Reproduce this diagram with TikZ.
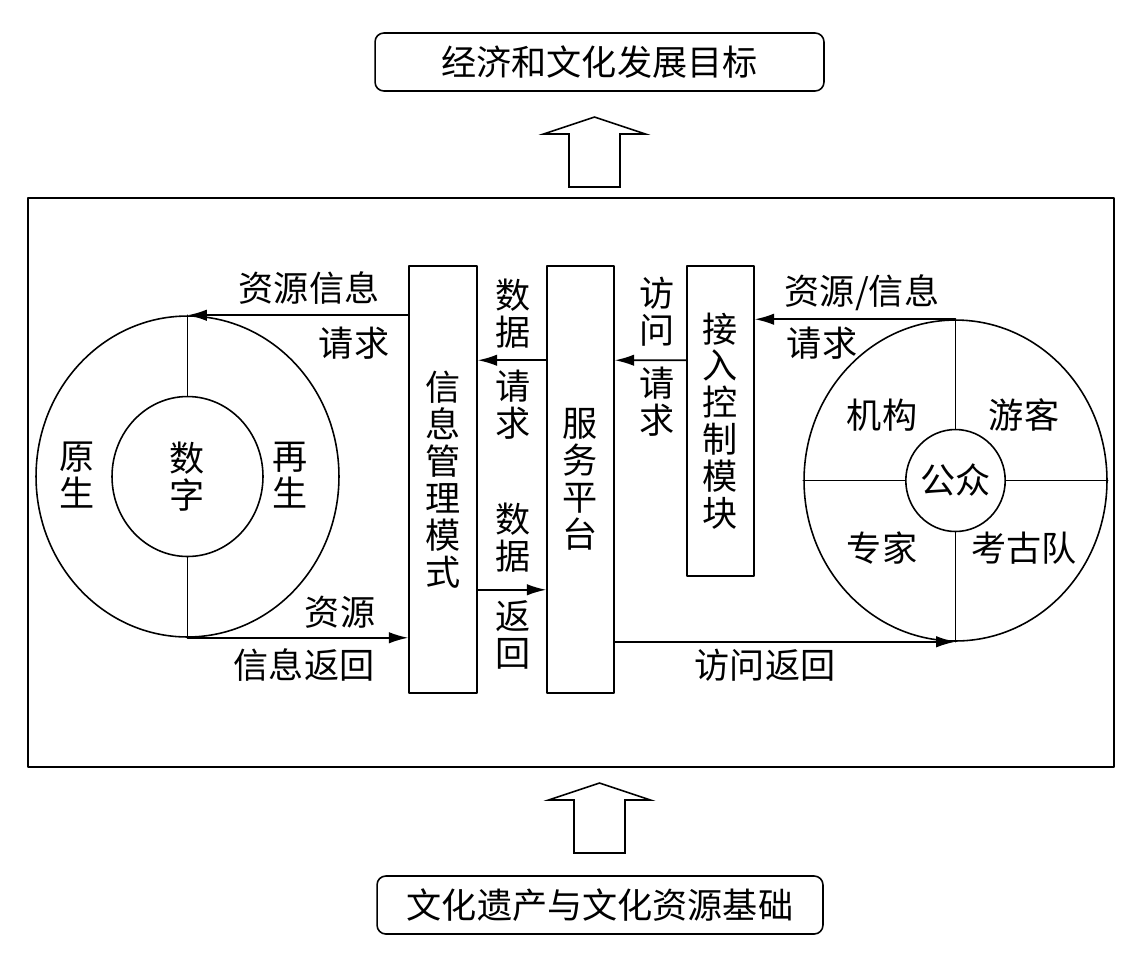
\documentclass[tikz,border=0pt]{standalone}
\usepackage{fontspec}
\newfontfamily\cjk{Noto Sans CJK SC}
\usetikzlibrary{arrows.meta,shapes.geometric}

\begin{document}
\begin{tikzpicture}[x=0.02cm,y=-0.02cm,line cap=round,line join=round,
    every node/.style={font=\cjk\fontsize{20}{21}\selectfont},
    line/.style={line width=0.9pt},
    box/.style={draw,line width=0.9pt,inner sep=0pt,align=center},
    rbox/.style={box,rounded corners=5pt},
    ring/.style={draw,ellipse,line width=0.9pt,inner sep=0pt,align=center},
    arr/.style={line width=0.9pt,-{Latex[length=11pt,width=6.5pt]}},
    blk/.style={draw,line width=0.9pt,line cap=butt,line join=miter}]
    \useasboundingbox (0,0) rectangle (1138,961);

    % 目标与基础
    \node[rbox,minimum width=8.98cm,minimum height=1.16cm] (mubiao) at (599.5,62) {经济和文化发展目标};
    \node[rbox,minimum width=8.92cm,minimum height=1.16cm] (jichu) at (600,905) {文化遗产与文化资源基础};
    \node[box,minimum width=21.72cm,minimum height=11.38cm] (kuang) at (571,482.5) {};

    % 空心箭头
    \foreach \bx/\by in {594.5/187, 599.5/853}
        \draw[blk] (\bx-25.5,\by) -- ++(0,-53) -- ++(-25.5,0) -- ++(51,-17)
            -- ++(51,17) -- ++(-25.5,0) -- ++(0,53) -- cycle;

    % 模块
    \node[box,minimum width=1.36cm,minimum height=8.54cm] (xinxi) at (443,479.5) {信\\息\\管\\理\\模\\式};
    \node[box,minimum width=1.34cm,minimum height=8.54cm] (fuwu) at (580.5,479.5) {服\\务\\平\\台};
    \node[box,minimum width=1.34cm,minimum height=6.2cm] (jieru) at (720.5,421) {接\\入\\控\\制\\模\\块};

    % 资源（左）
    \node[ring,minimum width=6.06cm,minimum height=6.42cm] (yuan) at (187.5,476.5) {};
    \node[ring,minimum width=3.02cm,minimum height=3.2cm] (shuzi) at (187.5,476.5) {数\\字};
    \draw[line] (yuan.north) -- (shuzi.north);
    \draw[line] (shuzi.south) -- (yuan.south);
    \node[align=center] (yuansheng) at (77,475) {原\\生};
    \node[align=center] (zaisheng) at (290,475) {再\\生};

    % 用户（右）
    \node[ring,minimum width=6.06cm,minimum height=6.42cm] (gong) at (955.5,480.5) {};
    \node[ring,minimum width=1.9cm,minimum height=2.04cm] (gongzhong) at (955.5,480.5) {公众};
    \draw[line] (gong.north) -- (gongzhong.north);
    \draw[line] (gongzhong.south) -- (gong.south);
    \draw[line] (gong.west) -- (gongzhong.west);
    \draw[line] (gongzhong.east) -- (gong.east);
    \node (jigou) at (882,415) {机构};
    \node (youke) at (1024,415) {游客};
    \node (zhuanjia) at (882,548) {专家};
    \node (kaogu) at (1024,548) {考古队};

    % 数据流
    \draw[arr] (xinxi.west |- yuan.north) -- (yuan.north);
    \draw[arr] (yuan.south) -- (xinxi.west |- yuan.south);
    \draw[arr] ([yshift=-1.9cm]fuwu.north west) -- ([yshift=-1.9cm]xinxi.north east);
    \draw[arr] ([yshift=-1.9cm]jieru.north west) -- ([yshift=-1.9cm]fuwu.north east);
    \draw[arr] ([yshift=2.08cm]xinxi.south east) -- ([yshift=2.08cm]fuwu.south west);
    \draw[arr] (gong.north) -- (jieru.east |- gong.north);
    \draw[arr] (fuwu.east |- gong.south) -- (gong.south);

    \node (l1) at (309,288) {资源信息};
    \node (l2) at (354,343) {请求};
    \node (l3) at (340,612) {资源};
    \node (l4) at (304,665) {信息返回};
    \node[align=center] (l5) at (513,313.5) {数\\据};
    \node[align=center] (l6) at (513,404.5) {请\\求};
    \node[align=center] (l7) at (657,311.5) {访\\问};
    \node[align=center] (l8) at (657,401.5) {请\\求};
    \node[align=center] (l9) at (513,537.5) {数\\据};
    \node[align=center] (l10) at (513,635) {返\\回};
    \node (l11) at (765,665) {访问返回};
    \node (l12) at (862,293) {资源/信息};
    \node (l13) at (822,343) {请求};
\end{tikzpicture}
\end{document}
